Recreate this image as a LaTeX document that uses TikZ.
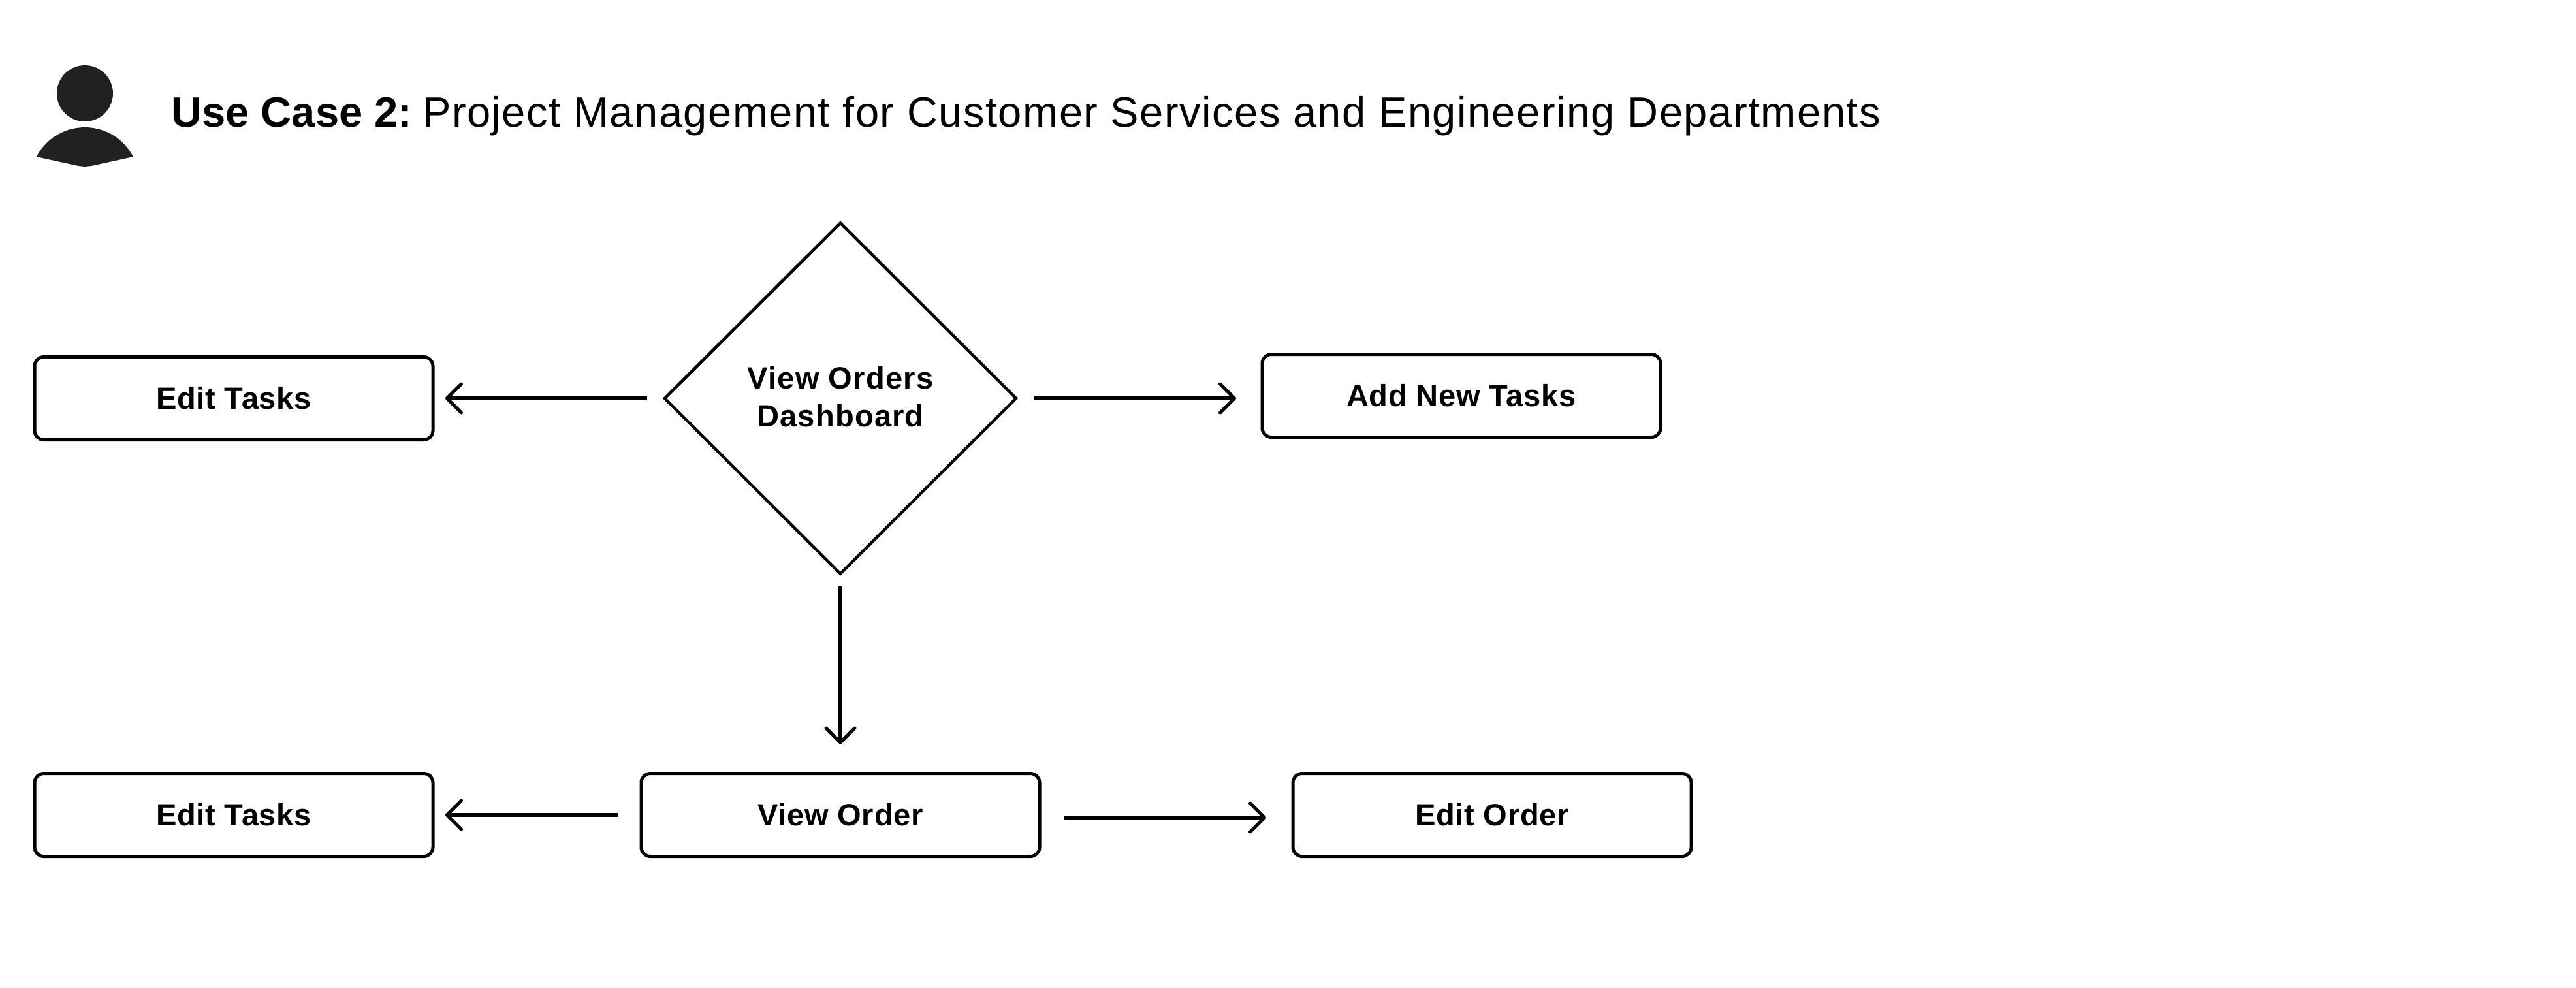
\documentclass[tikz,border=0pt]{standalone}
\usepackage{fontspec}
\setmainfont{Liberation Sans}
\usetikzlibrary{shapes.geometric, arrows.meta, positioning}
\tikzset{
    taskbox/.style={draw, line width=0.05cm, rounded corners=0.14cm, outer sep=0pt, inner sep=0pt,
        minimum width=6.10cm, minimum height=1.27cm, font=\fontsize{13.4}{16.5}\selectfont\bfseries\addfontfeatures{LetterSpace=1.5}},
    choicebox/.style={draw, diamond, aspect=1, line width=0.045cm, outer sep=0pt, inner sep=0pt,
        minimum width=5.38cm, minimum height=5.37cm, align=center, font=\fontsize{13.4}{16.5}\selectfont\bfseries\addfontfeatures{LetterSpace=2.5}},
    flowarrow/.style={-{Straight Barb[length=0.22cm,width=0.44cm,line width=0.05cm,round]}, line width=0.055cm},
    iconfill/.style={fill=black!87, draw=none}
}
\begin{document}
\begin{tikzpicture}
        \useasboundingbox (0,0) rectangle (39.45,-15.12);

        % draw the person icon
        \path[iconfill] (1.30,-1.43) circle(0.43);
        \path[iconfill] (0.56,-2.40) arc[start angle=152.6, end angle=27.4, radius=0.833]
              -- (1.40,-2.54) -- (1.30,-2.55) -- (1.20,-2.54) -- cycle;

        % the heading
        \node[anchor=base west, inner sep=0pt, font=\fontsize{18.5}{22}\selectfont] (heading) at (2.62,-1.94)
              {\textbf{Use Case 2:}\hspace*{-0.6pt} {\addfontfeatures{LetterSpace=2.3}Project Management for Customer Services and Engineering Departments}};

        % the upper row
        \node[choicebox] (dashboard) at (12.87,-6.10) {View Orders\\Dashboard\rule[-1.4pt]{0pt}{0pt}};
        \node[taskbox] (edittasksup) at (3.58,-6.10) {Edit Tasks};
        \node[taskbox] (addtasks) at (22.38,-6.06) {Add New Tasks};

        % the lower row
        \node[taskbox] (vieworder) at (12.87,-12.48) {View Order};
        \node[taskbox] (edittasksdown) at (3.58,-12.48) {Edit Tasks};
        \node[taskbox] (editorder) at (22.85,-12.48) {Edit Order};

        % draw the connectors
        \draw[flowarrow, shorten <=0.27cm, shorten >=0.19cm] (dashboard.west) -- (edittasksup.east);
        \draw[flowarrow, shorten <=0.27cm, shorten >=0.40cm] (dashboard.east) -- (dashboard.east -| addtasks.west);
        \draw[flowarrow, shorten <=0.19cm, shorten >=0.45cm] (dashboard.south) -- (vieworder.north);
        \draw[flowarrow, shorten <=0.36cm, shorten >=0.19cm] (vieworder.west) -- (edittasksdown.east);
        \draw[flowarrow, shorten <=0.38cm, shorten >=0.41cm] ([yshift=-0.04cm]vieworder.east) -- ([yshift=-0.04cm]vieworder.east -| editorder.west);
\end{tikzpicture}
\end{document}
